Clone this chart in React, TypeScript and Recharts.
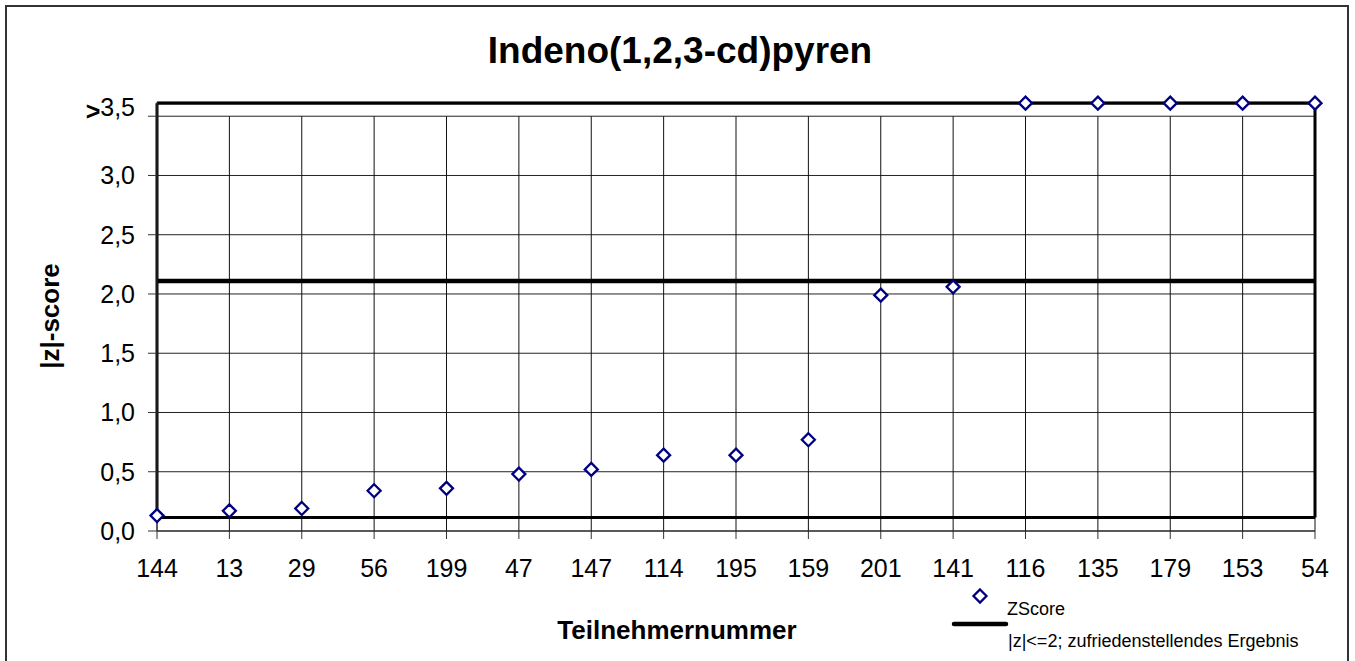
import React from 'react';
import { ComposedChart, Line, XAxis, YAxis, CartesianGrid, ReferenceLine, Legend, Customized } from 'recharts';

const participants = ['144', '13', '29', '56', '199', '47', '147', '114', '195', '159', '201', '141', '116', '135', '179', '153', '54'];
const zScores = [0.13, 0.17, 0.19, 0.34, 0.36, 0.48, 0.52, 0.64, 0.64, 0.77, 1.99, 2.06, 3.61, 3.61, 3.61, 3.61, 3.61];
const limitValue = 2.11;
const frameLow = 0.113;
const frameHigh = 3.61;
const yTicks = [0, 0.5, 1.0, 1.5, 2.0, 2.5, 3.0, 3.5];
const gridTop = 3.5;

const data = participants.map((p, i) => ({ cat: p, z: zScores[i], limit: limitValue }));

const FONT = "Arial, 'Liberation Sans', sans-serif";
const NAVY = '#000080';

const Diamond = (props: any) => {
  const { cx, cy, index } = props;
  if (cx == null || cy == null) return <g key={index} />;
  const r = 6.5;
  return (
    <path
      key={index}
      d={`M${cx},${cy - r}L${cx + r},${cy}L${cx},${cy + r}L${cx - r},${cy}Z`}
      fill="#fff"
      stroke={NAVY}
      strokeWidth={2.3}
    />
  );
};

const YTick = (props: any) => {
  const { x, y, payload } = props;
  const label = Number(payload.value).toFixed(1).replace('.', ',');
  const isTop = Math.abs(payload.value - 3.5) < 1e-6;
  return (
    <text x={x} y={y} textAnchor="end" dy="0.355em" fontSize={25} fontFamily={FONT} fill="#000">
      {isTop ? (
        <>
          <tspan fontWeight="bold" dy={4}>{'>'}</tspan>
          <tspan dy={-4}>{label}</tspan>
        </>
      ) : (
        label
      )}
    </text>
  );
};

const LegendContent = () => (
  <svg width={420} height={80} style={{ display: 'block', overflow: 'visible' }}>
    <path d="M40,9.5L46.5,16L40,22.5L33.5,16Z" fill="#fff" stroke={NAVY} strokeWidth={2.3} />
    <text x={67} y={35} fontSize={18} fontFamily={FONT} fill="#000">ZScore</text>
    <line x1={14} y1={44} x2={66} y2={44} stroke="#000" strokeWidth={4.5} strokeLinecap="round" />
    <text x={68} y={67} fontSize={18} fontFamily={FONT} fill="#000">|z|&lt;=2; zufriedenstellendes Ergebnis</text>
  </svg>
);

const Titles = () => (
  <g>
    <text x={680} y={63} textAnchor="middle" fontSize={37} fontWeight="bold" fontFamily={FONT} fill="#000">
      Indeno(1,2,3-cd)pyren
    </text>
    <text x={677} y={639} textAnchor="middle" fontSize={26} fontWeight="bold" fontFamily={FONT} fill="#000">
      Teilnehmernummer
    </text>
    <text
      x={59}
      y={316}
      textAnchor="middle"
      fontSize={26}
      fontWeight="bold"
      fontFamily={FONT}
      fill="#000"
      transform="rotate(-90 59 316)"
    >
      |z|-score
    </text>
  </g>
);

export default function App() {
  return (
    <div style={{ position: 'absolute', left: 0, top: 0, width: 1355, height: 700, background: '#fff' }}>
      <ComposedChart
        width={1355}
        height={700}
        data={data}
        margin={{ top: 102, right: 40, bottom: 129, left: 77 }}
      >
        <CartesianGrid vertical={false} stroke="#222" strokeWidth={1} />
        <XAxis
          dataKey="cat"
          scale="point"
          padding={{ left: 0, right: 0 }}
          interval={0}
          height={40}
          tickSize={8}
          tickMargin={20}
          axisLine={{ stroke: '#222' }}
          tickLine={{ stroke: '#333' }}
          tick={{ fontSize: 25, fontFamily: FONT, fill: '#000' }}
        />
        <YAxis
          type="number"
          domain={[0, 3.62]}
          ticks={yTicks}
          interval={0}
          width={80}
          tickSize={9}
          tickMargin={13}
          axisLine={{ stroke: '#333' }}
          tickLine={{ stroke: '#333' }}
          tick={<YTick />}
        />
        {participants.map((p) => (
          <ReferenceLine
            key={`g-${p}`}
            segment={[{ x: p, y: 0 }, { x: p, y: gridTop }]}
            stroke="#111"
            strokeWidth={1}
            ifOverflow="visible"
          />
        ))}
        <ReferenceLine
          segment={[{ x: participants[0], y: frameLow }, { x: participants[participants.length - 1], y: frameLow }]}
          stroke="#000"
          strokeWidth={3}
          ifOverflow="visible"
        />
        <ReferenceLine
          segment={[{ x: participants[0], y: frameHigh }, { x: participants[participants.length - 1], y: frameHigh }]}
          stroke="#000"
          strokeWidth={3}
          ifOverflow="visible"
        />
        <ReferenceLine
          segment={[{ x: participants[0], y: frameLow }, { x: participants[0], y: frameHigh }]}
          stroke="#000"
          strokeWidth={3}
          ifOverflow="visible"
        />
        <ReferenceLine
          segment={[{ x: participants[participants.length - 1], y: frameLow }, { x: participants[participants.length - 1], y: frameHigh }]}
          stroke="#000"
          strokeWidth={3}
          ifOverflow="visible"
        />
        <Line
          dataKey="limit"
          name="|z|<=2; zufriedenstellendes Ergebnis"
          stroke="#000"
          strokeWidth={4.5}
          dot={false}
          activeDot={false}
          isAnimationActive={false}
        />
        <Line
          dataKey="z"
          name="ZScore"
          stroke="none"
          strokeWidth={0}
          dot={Diamond}
          activeDot={false}
          isAnimationActive={false}
        />
        <Legend
          layout="vertical"
          align="center"
          verticalAlign="middle"
          content={<LegendContent />}
          wrapperStyle={{ position: 'absolute', left: 940, top: 580, width: 420, height: 80 }}
        />
        <Customized component={Titles} />
      </ComposedChart>
      <div
        style={{
          position: 'absolute',
          left: 5,
          top: 5,
          width: 1344,
          height: 720,
          border: '2px solid #333',
          boxSizing: 'border-box',
          pointerEvents: 'none',
        }}
      />
    </div>
  );
}
